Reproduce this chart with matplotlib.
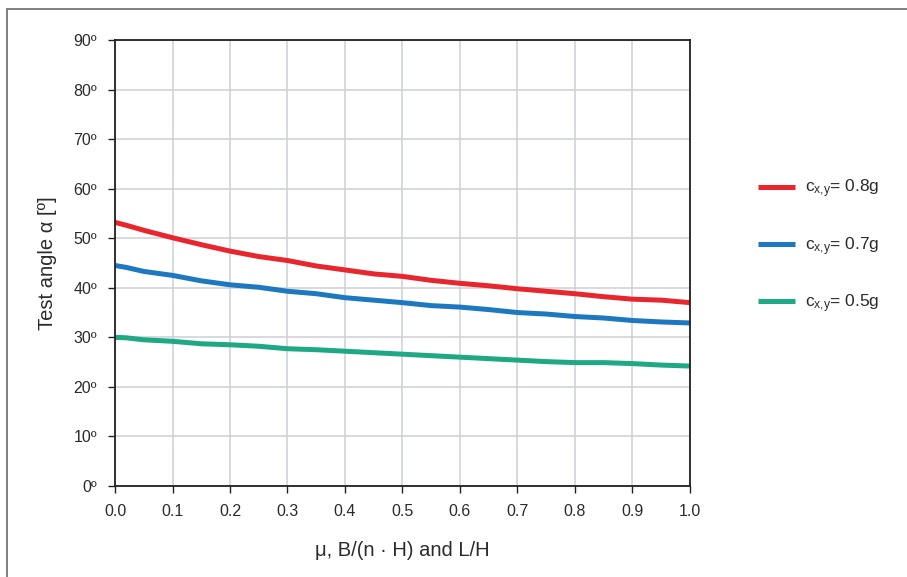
import matplotlib
matplotlib.use('Agg')
import matplotlib.pyplot as plt
from matplotlib.lines import Line2D

plt.rcParams['font.family'] = ['Liberation Sans', 'DejaVu Sans']
plt.rcParams['mathtext.fontset'] = 'custom'
plt.rcParams['mathtext.rm'] = 'Liberation Sans'
plt.rcParams['mathtext.it'] = 'Liberation Sans'

# Data
x_vals = [0.0, 0.02, 0.05, 0.1, 0.15, 0.2, 0.25, 0.3, 0.35, 0.4, 0.45, 0.5,
          0.55, 0.6, 0.65, 0.7, 0.75, 0.8, 0.85, 0.9, 0.95, 1.0]
angle_08g = [53.2, 52.6, 51.6, 50.1, 48.7, 47.4, 46.3, 45.5, 44.4, 43.6, 42.8, 42.3,
             41.5, 40.9, 40.4, 39.8, 39.3, 38.8, 38.2, 37.7, 37.5, 37.0]
angle_07g = [44.5, 44.1, 43.3, 42.5, 41.4, 40.6, 40.1, 39.3, 38.8, 38.0, 37.5, 37.0,
             36.4, 36.1, 35.6, 35.0, 34.7, 34.2, 33.9, 33.4, 33.1, 32.9]
angle_05g = [30.0, 29.9, 29.5, 29.2, 28.7, 28.5, 28.2, 27.7, 27.5, 27.2, 26.9, 26.6,
             26.3, 26.0, 25.7, 25.4, 25.1, 24.9, 24.9, 24.7, 24.4, 24.2]
series_labels = [r'c$_{\rm x{,}y}$= 0.8g', r'c$_{\rm x{,}y}$= 0.7g', r'c$_{\rm x{,}y}$= 0.5g']
series_colors = ['#e8262d', '#1d78c0', '#1ea883']
y_ticks = list(range(0, 91, 10))
x_ticks = [i / 10 for i in range(11)]

text_col = '#2b2b2b'

fig = plt.figure(figsize=(9.07, 5.77), dpi=100)
ax = fig.add_axes([0.1268, 0.1577, 0.6339, 0.7730])

for vals, lab, col in zip([angle_08g, angle_07g, angle_05g], series_labels, series_colors):
    ax.plot(x_vals, vals, color=col, linewidth=3.6, label=lab, solid_capstyle='butt')

ax.set_xlim(0, 1)
ax.set_ylim(0, 90)
ax.set_xticks(x_ticks)
ax.set_xticklabels([f'{t:.1f}' for t in x_ticks])
ax.set_yticks(y_ticks)
ax.set_yticklabels([f'{t}º' for t in y_ticks])
ax.grid(True, color='#cdd0d7', linewidth=1.1)
ax.set_axisbelow(True)
for s in ax.spines.values():
    s.set_color('#231f20')
    s.set_linewidth(1.3)
ax.tick_params(direction='out', length=5, width=1, color='#231f20',
               labelsize=11.5, labelcolor=text_col, pad=8)
ax.set_xlabel('μ, B/(n · H) and L/H', fontsize=14.5, color=text_col, labelpad=16)
ax.set_ylabel('Test angle α [º]', fontsize=14.5, color=text_col, labelpad=12)

fig.legend(loc='upper left', bbox_to_anchor=(0.819, 0.719), frameon=False,
           fontsize=12.5, handlelength=2.1, handletextpad=0.6, labelspacing=2.0,
           labelcolor=text_col)

# outer gray frame
fig.add_artist(Line2D([0.0077, 0.0077], [0, 1 - 9 / 577], transform=fig.transFigure,
                      color='#808080', linewidth=1.4))
fig.add_artist(Line2D([0.0077, 1], [1 - 9 / 577, 1 - 9 / 577], transform=fig.transFigure,
                      color='#808080', linewidth=1.4))

fig.savefig('out.png', dpi=100)
